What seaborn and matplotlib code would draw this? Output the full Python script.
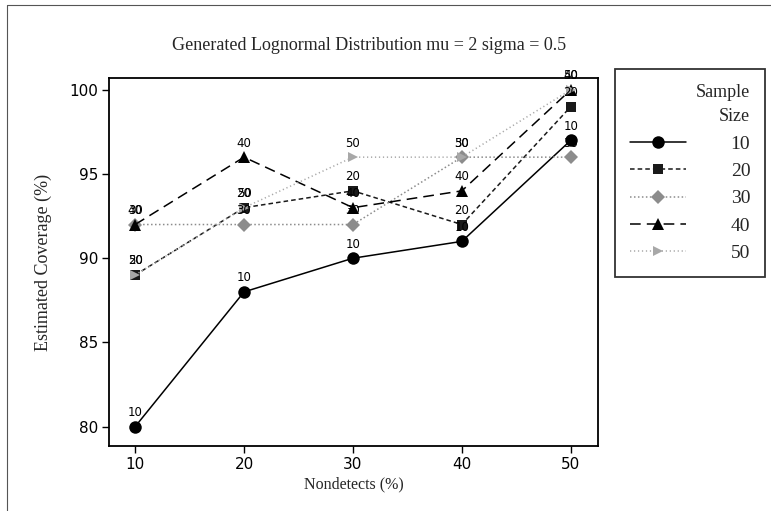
import matplotlib
matplotlib.use("Agg")
import matplotlib.pyplot as plt
from matplotlib.lines import Line2D
import numpy as np
import pandas as pd
import seaborn as sns

# Coverage estimates by nondetect percentage, one series per sample size
nondetects = [10, 20, 30, 40, 50]
sample_sizes = ["10", "20", "30", "40", "50"]
cov_n10 = [80, 88, 90, 91, 97]
cov_n20 = [89, 93, 94, 92, 99]
cov_n30 = [92, 92, 92, 96, 96]
cov_n40 = [92, 96, 93, 94, 100]
cov_n50 = [89, 93, 96, 96, 100]
y_ticks = [80, 85, 90, 95, 100]

series = dict(zip(sample_sizes, [cov_n10, cov_n20, cov_n30, cov_n40, cov_n50]))
df = pd.DataFrame(
    [(x, v, k) for k, vals in series.items() for x, v in zip(nondetects, vals)],
    columns=["Nondetects", "Coverage", "Size"],
)

sns.set_theme(style="white")
plt.rcParams["font.family"] = ["DejaVu Sans"]

palette = {"10": "#000000", "20": "#1a1a1a", "30": "#8c8c8c", "40": "#000000", "50": "#a8a8a8"}
markers = {"10": "o", "20": "s", "30": "D", "40": "^", "50": ">"}
dashes = {"10": "", "20": (3, 2), "30": (1, 1.6), "40": (7, 4), "50": (0.8, 1.8)}
msizes = {"10": 9, "20": 7, "30": 7, "40": 8, "50": 7}

fig = plt.figure(figsize=(7.71, 5.11), dpi=100)
ax = fig.add_axes([109 / 771, 1 - 446 / 511, (598 - 109) / 771, (446 - 78) / 511])

sns.lineplot(
    data=df, x="Nondetects", y="Coverage", hue="Size", style="Size",
    palette=palette, markers=markers, dashes=dashes, markersize=8,
    markeredgewidth=0, linewidth=1.1, legend=False, ax=ax,
)
# per-series marker sizes
for line, k in zip(ax.get_lines(), sample_sizes):
    line.set_markersize(msizes[k])

# point labels showing the sample size
for k, vals in series.items():
    for x, v in zip(nondetects, vals):
        ax.annotate(k, (x, v), xytext=(0, 5.5), textcoords="offset points",
                    ha="center", va="bottom", fontsize=8.5, color="black")

ax.set_xlim(7.6, 52.5)
ax.set_ylim(78.85, 100.7)
ax.set_xticks(nondetects)
ax.set_yticks(y_ticks)
ax.tick_params(axis="both", direction="out", length=5, width=1, colors="black",
               labelsize=11, left=True, bottom=True, pad=3)
for s in ax.spines.values():
    s.set_color("black")
    s.set_linewidth(1.3)

serif = ["Liberation Serif", "DejaVu Serif"]
ax.set_xlabel("Nondetects (%)", fontsize=11.5, family=serif, labelpad=3)
ax.set_ylabel("Estimated Coverage (%)", fontsize=13, family=serif, labelpad=12)
fig.text(0.5 * (109 + 598) / 771 + 0.02, 1 - 45 / 511,
         "Generated Lognormal Distribution mu = 2 sigma = 0.5",
         ha="center", va="center", fontsize=13, family=serif)

# legend
handles = [
    Line2D([0], [0], color=palette[k], marker=markers[k], markersize=msizes[k],
           markeredgewidth=0, linewidth=1.1,
           linestyle="-" if dashes[k] == "" else (0, dashes[k]))
    for k in sample_sizes
]
leg = fig.legend(
    handles, sample_sizes, title="Sample\nSize", loc="upper left",
    bbox_to_anchor=(615 / 771, 1 - 69 / 511), frameon=True, fancybox=False,
    edgecolor="black", prop={"family": serif, "size": 14},
    title_fontproperties={"family": serif, "size": 13}, alignment="right",
    handlelength=2.9, handletextpad=2.3, labelspacing=0.5, borderpad=0.75,
    borderaxespad=0,
)
leg.get_title().set_multialignment("right")
leg.get_title().set_linespacing(1.6)
leg.get_frame().set_linewidth(1.3)

# outer frame lines
fig.add_artist(Line2D([7 / 771, 7 / 771], [0, 1 - 5 / 511], color="#555555", lw=0.8))
fig.add_artist(Line2D([7 / 771, 1], [1 - 5 / 511, 1 - 5 / 511], color="#555555", lw=0.8))

fig.savefig("out.png", dpi=100)
